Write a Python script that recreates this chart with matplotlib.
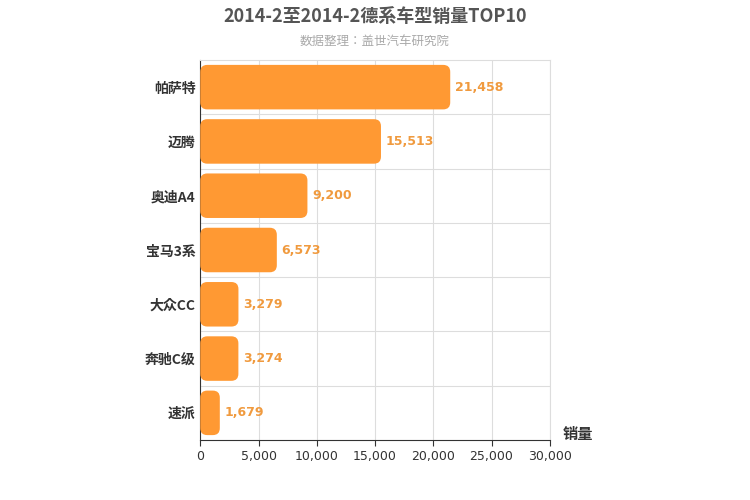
import matplotlib
matplotlib.use("Agg")
import matplotlib.pyplot as plt
from matplotlib.patches import FancyBboxPatch
from matplotlib.font_manager import FontProperties
import os

reg = "/usr/share/fonts/opentype/noto/NotoSansCJK-Regular.ttc"
bold = "/usr/share/fonts/opentype/noto/NotoSansCJK-Bold.ttc"
def fp(size, b=False):
    f = bold if b else reg
    if os.path.exists(f):
        return FontProperties(fname=f, size=size)
    return FontProperties(family="Noto Sans CJK SC", size=size, weight="bold" if b else "normal")

categories = ["帕萨特", "迈腾", "奥迪A4", "宝马3系", "大众CC", "奔驰C级", "速派"]
values = [21458, 15513, 9200, 6573, 3279, 3274, 1679]
xticks = [0, 5000, 10000, 15000, 20000, 25000, 30000]

fig = plt.figure(figsize=(7.5, 5), dpi=100)
ax = fig.add_axes([0.267, 0.12, 0.466, 0.76])
n = len(categories)
ys = list(range(n))[::-1]
ax.set_xlim(0, 30000)
ax.set_ylim(-0.5, n - 0.5)
h = 0.82
asp = (7 / 380) / (30000 / 350)
for y, v in zip(ys, values):
    p = FancyBboxPatch((0, y - h / 2), v, h, boxstyle="round,pad=0,rounding_size=600",
                       mutation_aspect=asp, fc="#FF9933", ec="none", zorder=3)
    ax.add_patch(p)
    ax.text(v + 400, y, f"{v:,}", va="center", ha="left", fontsize=9,
            color="#F09A3E", fontweight="bold", zorder=4)
ax.set_yticks(ys)
ax.set_yticklabels(categories, fontproperties=fp(10, True), color="#333333")
ax.set_xticks(xticks)
ax.set_xticklabels([f"{t:,}" for t in xticks], fontsize=9, color="#333333")
for b in [i + 0.5 for i in range(n - 1)]:
    ax.axhline(b, color="#DDDDDD", lw=0.8, zorder=1)
ax.grid(axis="x", color="#DDDDDD", lw=0.8, zorder=1)
ax.tick_params(axis="y", length=0)
ax.tick_params(axis="x", length=4, color="#333333")
for s in ["top", "right"]:
    ax.spines[s].set_color("#DDDDDD")
for s in ["left", "bottom"]:
    ax.spines[s].set_color("#333333")
ax.text(1.08, -0.005, "销量", transform=ax.transAxes, fontproperties=fp(11, True),
        color="#333333", ha="center", va="bottom")
fig.text(0.5, 0.968, "2014-2至2014-2德系车型销量TOP10", ha="center", va="center",
         fontproperties=fp(13, True), color="#555555")
fig.text(0.5, 0.918, "数据整理：盖世汽车研究院", ha="center", va="center",
         fontproperties=fp(9), color="#AAAAAA")
fig.savefig("out.png", dpi=100)
